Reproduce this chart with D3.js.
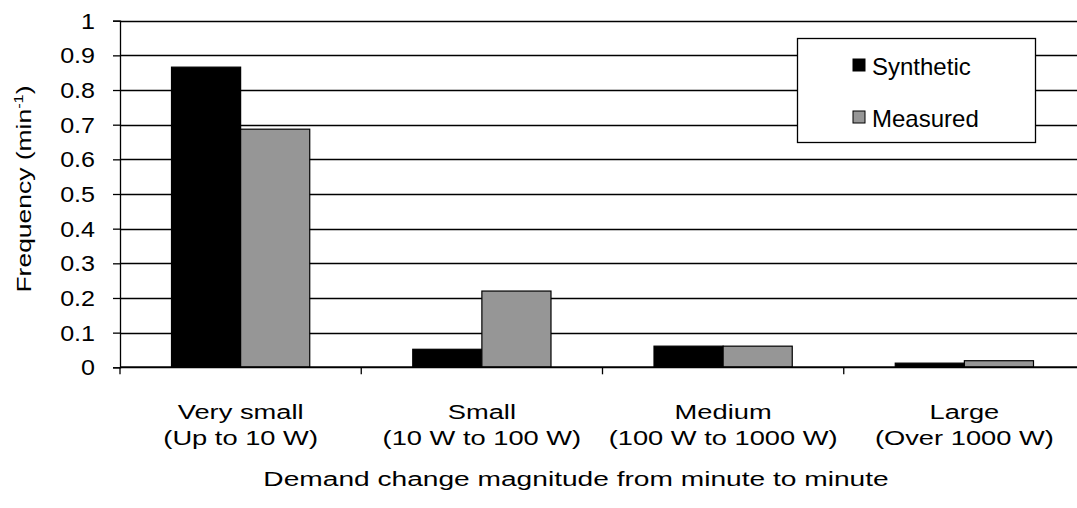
<!DOCTYPE html>
<html>
<head>
<meta charset="utf-8">
<script src="https://d3js.org/d3.v7.min.js"></script>
<style>
  body { margin: 0; background: #fff; }
  text { font-family: "Liberation Sans", Arial, sans-serif; fill: #000; }
</style>
</head>
<body>
<script>
  var categories = ["Very small", "Small", "Medium", "Large"];
  var subLabels = ["(Up to 10 W)", "(10 W to 100 W)", "(100 W to 1000 W)", "(Over 1000 W)"];
  var seriesNames = ["Synthetic", "Measured"];
  var synthetic = [0.866, 0.052, 0.061, 0.012];
  var measured = [0.687, 0.22, 0.061, 0.019];
  var yTicks = [0, 0.1, 0.2, 0.3, 0.4, 0.5, 0.6, 0.7, 0.8, 0.9, 1];
  var colors = ["#000000", "#969696"];

  var W = 1077, H = 508;
  var plotLeft = 120, plotRight = 1085, plotTop = 20.7, plotBottom = 367.3;

  var svg = d3.select("body").append("svg")
      .attr("width", W)
      .attr("height", H);

  var x0 = d3.scaleBand()
      .domain(categories)
      .range([plotLeft, plotRight])
      .paddingInner(0.427)
      .paddingOuter(0.2135);

  var x1 = d3.scaleBand()
      .domain(seriesNames)
      .range([0, x0.bandwidth()]);

  var y = d3.scaleLinear()
      .domain([0, 1])
      .range([plotBottom, plotTop]);

  // gridlines
  svg.append("g")
      .selectAll("line")
      .data(yTicks.filter(d => d > 0))
      .enter().append("line")
      .attr("x1", plotLeft)
      .attr("x2", plotRight)
      .attr("y1", d => Math.round(y(d)) + 0.5)
      .attr("y2", d => Math.round(y(d)) + 0.5)
      .attr("stroke", "#000")
      .attr("stroke-width", 1.3);

  // y axis
  var yAxis = svg.append("g")
      .attr("transform", "translate(" + plotLeft + ",0)")
      .call(d3.axisLeft(y).tickValues(yTicks).tickSize(7).tickFormat(""));
  yAxis.select(".domain").attr("stroke-width", 1.3);
  yAxis.selectAll(".tick line").attr("stroke-width", 1.3);

  svg.append("g").selectAll("text")
      .data(yTicks)
      .enter().append("text")
      .attr("text-anchor", "end")
      .attr("transform", d => "translate(95," + (y(d) + 8) + ") scale(1.14,1)")
      .style("font-size", "22px")
      .text(d => d === 0 ? "0" : d === 1 ? "1" : d3.format(".1f")(d));

  // bars
  var rows = categories.map((c, i) => ({cat: c, vals: [synthetic[i], measured[i]]}));
  var groups = svg.append("g").selectAll("g")
      .data(rows)
      .enter().append("g")
      .attr("transform", d => "translate(" + x0(d.cat) + ",0)");

  groups.selectAll("rect")
      .data(d => d.vals.map((v, j) => ({name: seriesNames[j], v: v, j: j})))
      .enter().append("rect")
      .attr("x", d => x1(d.name))
      .attr("width", x1.bandwidth())
      .attr("y", d => y(d.v))
      .attr("height", d => y(0) - y(d.v))
      .attr("fill", d => colors[d.j])
      .attr("stroke", "#000")
      .attr("stroke-width", 1.2);

  // x axis
  var xAxis = svg.append("g")
      .attr("transform", "translate(0," + plotBottom + ")");
  xAxis.append("line")
      .attr("x1", plotLeft).attr("x2", plotRight)
      .attr("stroke", "#000").attr("stroke-width", 2);
  var step = x0.step();
  xAxis.selectAll(".tk")
      .data(d3.range(categories.length + 1))
      .enter().append("line")
      .attr("class", "tk")
      .attr("x1", i => plotLeft + i * step)
      .attr("x2", i => plotLeft + i * step)
      .attr("y1", 0).attr("y2", 7)
      .attr("stroke", "#000").attr("stroke-width", 1.3);

  var labels = svg.append("g").selectAll("g")
      .data(categories)
      .enter().append("g")
      .attr("transform", d => "translate(" + (x0(d) + x0.bandwidth() / 2) + ",419) scale(1.3,1)");
  labels.append("text")
      .attr("text-anchor", "middle")
      .style("font-size", "21px")
      .text(d => d);
  labels.append("text")
      .attr("text-anchor", "middle")
      .attr("y", 26)
      .style("font-size", "21px")
      .text((d, i) => subLabels[i]);

  // axis titles
  svg.append("text")
      .attr("transform", "translate(576,486) scale(1.34,1)")
      .attr("text-anchor", "middle")
      .style("font-size", "21px")
      .text("Demand change magnitude from minute to minute");

  var yt = svg.append("text")
      .attr("transform", "translate(31,189) rotate(-90) scale(1.26,1)")
      .attr("text-anchor", "middle")
      .style("font-size", "21px");
  yt.append("tspan").text("Frequency (min");
  yt.append("tspan").attr("dy", -8).style("font-size", "13px").text("-1");
  yt.append("tspan").attr("dy", 8).text(")");

  // legend
  var lg = svg.append("g");
  lg.append("rect")
      .attr("x", 797.5).attr("y", 38.5)
      .attr("width", 238).attr("height", 104)
      .attr("fill", "#fff").attr("stroke", "#000").attr("stroke-width", 1.3);
  var items = lg.selectAll(".it")
      .data(seriesNames)
      .enter().append("g")
      .attr("class", "it")
      .attr("transform", (d, i) => "translate(853," + (59 + i * 52) + ")");
  items.append("rect")
      .attr("width", 12).attr("height", 12)
      .attr("fill", (d, i) => colors[i])
      .attr("stroke", "#000").attr("stroke-width", 1);
  items.append("text")
      .attr("x", 19).attr("y", 16)
      .style("font-size", "24px")
      .text(d => d);
</script>
</body>
</html>
